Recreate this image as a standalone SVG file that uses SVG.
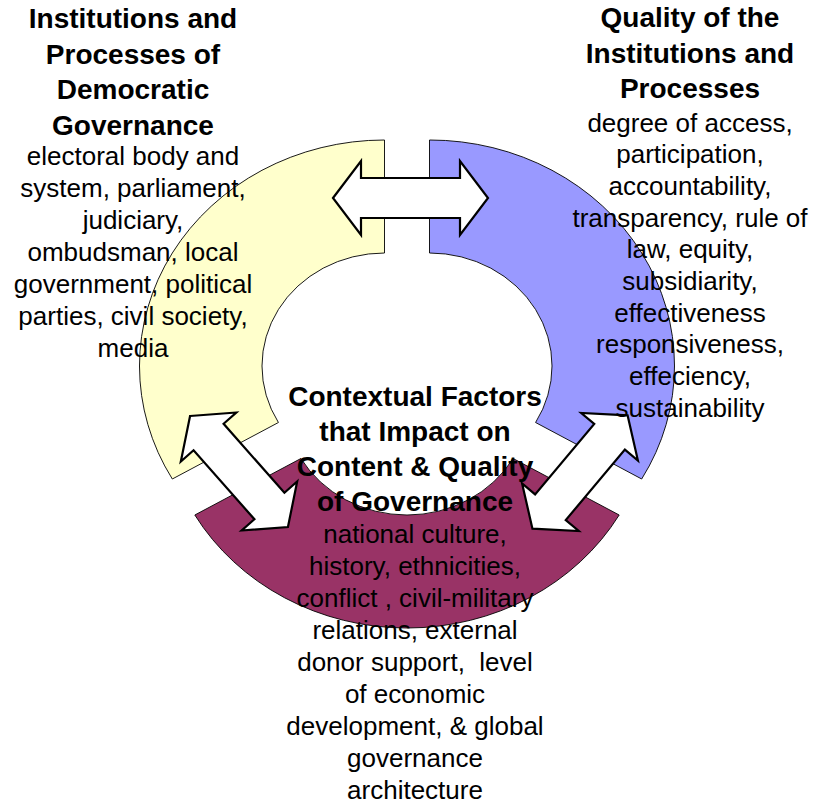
<svg xmlns="http://www.w3.org/2000/svg" width="815" height="808" viewBox="0 0 815 808">
  <style>
    .seg { stroke: #000; stroke-width: 0.9; }
    .arrow { fill: #fff; stroke: #000; stroke-width: 2.2; stroke-linejoin: miter; }
    text { font-family: "Liberation Sans", Arial, sans-serif; fill: #000; text-anchor: middle; }
    .head { font-size: 28px; font-weight: bold; }
    .body { font-size: 26px; white-space: pre; }
  </style>
  <defs>
    <!-- double-headed block arrow, centred on the origin, pointing along x -->
    <path id="dbl-arrow-wide" d="M -77.5,0 L -49.5,-37 L -49.5,-20 L 49.5,-20 L 49.5,-37 L 77.5,0 L 49.5,37 L 49.5,20 L -49.5,20 L -49.5,37 Z"/>
    <path id="dbl-arrow" d="M -74,0 L -46,-37 L -46,-20 L 46,-20 L 46,-37 L 74,0 L 46,37 L 46,20 L -46,20 L -46,37 Z"/>
  </defs>

  <rect width="815" height="808" fill="#fff"/>

  <!-- ring segments -->
  <g id="node-institutions">
    <path class="seg" fill="#FFFFCC" d="M 384.5,140 A 245 226 0 0 0 172.32,479 L 278.41,422.5 A 122.5 113 0 0 1 384.5,253 Z"/>
  </g>
  <g id="node-quality">
    <path class="seg" fill="#9999FF" d="M 429.5,140 A 245 226 0 0 1 641.68,479 L 535.59,422.5 A 122.5 113 0 0 0 429.5,253 Z"/>
  </g>
  <g id="node-context">
    <path class="seg" fill="#993366" d="M 619.18,515 A 245 226 0 0 1 194.82,515 L 300.91,458.5 A 122.5 113 0 0 0 513.09,458.5 Z"/>
  </g>

  <!-- two-way links between the segments -->
  <g id="connectors">
    <use href="#dbl-arrow-wide" class="arrow" transform="translate(410.5,198)"/>
    <use href="#dbl-arrow" class="arrow" transform="translate(239,471.5) rotate(48.6)"/>
    <use href="#dbl-arrow" class="arrow" transform="translate(580,472) rotate(130)"/>
  </g>

  <!-- labels -->
  <g id="label-institutions">
    <text class="head" x="133" y="28">Institutions and</text>
    <text class="head" x="133" y="63.5">Processes of</text>
    <text class="head" x="133" y="99">Democratic</text>
    <text class="head" x="133" y="134.5">Governance</text>
    <text class="body" x="133" y="165">electoral body and</text>
    <text class="body" x="133" y="197">system, parliament,</text>
    <text class="body" x="133" y="229">judiciary,</text>
    <text class="body" x="133" y="261">ombudsman, local</text>
    <text class="body" x="133" y="293">government, political</text>
    <text class="body" x="133" y="325">parties, civil society,</text>
    <text class="body" x="133" y="357">media</text>
  </g>
  <g id="label-quality">
    <text class="head" x="690" y="27">Quality of the</text>
    <text class="head" x="690" y="63">Institutions and</text>
    <text class="head" x="690" y="98">Processes</text>
    <text class="body" x="690" y="131.5">degree of access,</text>
    <text class="body" x="690" y="163.2">participation,</text>
    <text class="body" x="690" y="194.9">accountability,</text>
    <text class="body" x="690" y="226.6">transparency, rule of</text>
    <text class="body" x="690" y="258.3">law, equity,</text>
    <text class="body" x="690" y="290">subsidiarity,</text>
    <text class="body" x="690" y="321.7">effectiveness</text>
    <text class="body" x="690" y="353.4">responsiveness,</text>
    <text class="body" x="690" y="385.1">effeciency,</text>
    <text class="body" x="690" y="416.8">sustainability</text>
  </g>
  <g id="label-context">
    <text class="head" x="415" y="406">Contextual Factors</text>
    <text class="head" x="415" y="441">that Impact on</text>
    <text class="head" x="415" y="476">Content &amp; Quality</text>
    <text class="head" x="415" y="511">of Governance</text>
    <text class="body" x="415" y="543">national culture,</text>
    <text class="body" x="415" y="575">history, ethnicities,</text>
    <text class="body" x="415" y="607">conflict , civil-military</text>
    <text class="body" x="415" y="639">relations, external</text>
    <text class="body" x="415" y="671">donor support,  level</text>
    <text class="body" x="415" y="703">of economic</text>
    <text class="body" x="415" y="735">development, &amp; global</text>
    <text class="body" x="415" y="767">governance</text>
    <text class="body" x="415" y="799">architecture</text>
  </g>
</svg>
